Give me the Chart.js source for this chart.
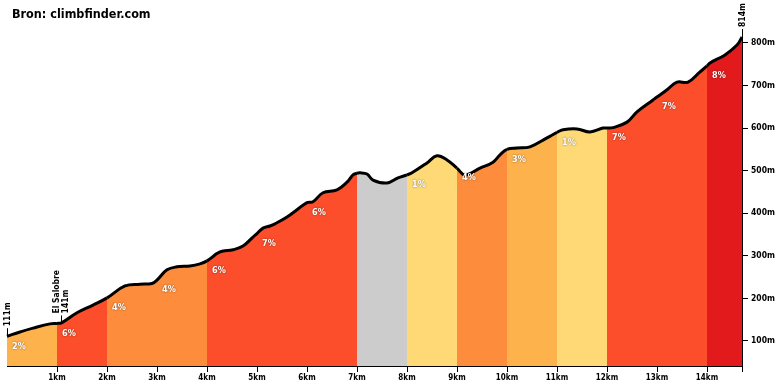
<!DOCTYPE html>
<html>
<head>
<meta charset="utf-8">
<script src="https://cdn.jsdelivr.net/npm/chart.js@4/dist/chart.umd.min.js"></script>
<style>
    body { margin: 0; background: #fff; }
    #wrap { width: 780px; height: 390px; }
</style>
</head>
<body>
<div id="wrap"><canvas id="profile" width="780" height="390"></canvas></div>
<script>
// profile: distance (km) and altitude (m)
const distKm = [0, 0.26, 0.52, 0.86, 1.0, 1.1, 1.4, 1.72, 2.0, 2.36, 2.66, 2.9, 3.0, 3.2, 3.4, 3.66, 3.86,
    4.0, 4.26, 4.52, 4.72, 4.92, 5.0, 5.12, 5.26, 5.36, 5.6, 5.8, 6.0, 6.12, 6.32, 6.6, 6.8, 6.92,
    7.0, 7.06, 7.2, 7.32, 7.6, 7.82, 8.0, 8.1, 8.4, 8.6, 8.8, 9.0, 9.16, 9.46, 9.72, 9.86,
    10.0, 10.2, 10.46, 10.8, 11.0, 11.12, 11.4, 11.66, 11.92, 12.0, 12.12, 12.4, 12.6, 12.92,
    13.0, 13.2, 13.4, 13.62, 13.86, 14.0, 14.06, 14.36, 14.6, 14.7];
const elevM = [111, 121, 130, 140, 141, 143, 166, 184, 201, 229, 233, 235, 243, 267, 274, 276, 281,
    288, 309, 314, 323, 344, 352, 365, 370, 375, 391, 408, 425, 427, 448, 455, 473, 490,
    494, 495, 492, 478, 471, 483, 490, 495, 518, 535, 525, 506, 490, 506, 520, 537,
    550, 553, 556, 577, 590, 596, 598, 591, 600, 600, 601, 614, 638, 666,
    673, 690, 708, 708, 732, 746, 753, 772, 795, 814];

// one entry per kilometre
const gradeText = ["2%", "6%", "4%", "4%", "6%", "7%", "6%", "", "1%", "4%", "3%", "1%", "7%", "7%", "8%"];
const gradeColor = ["#FEB24C", "#FC4E2A", "#FD8D3C", "#FD8D3C", "#FC4E2A", "#FC4E2A", "#FC4E2A", "#CCCCCC",
    "#FED976", "#FD8D3C", "#FEB24C", "#FED976", "#FC4E2A", "#FC4E2A", "#E31A1C"];

const kmTicks = [1, 2, 3, 4, 5, 6, 7, 8, 9, 10, 11, 12, 13, 14, 14.7];
const elevTicks = [100, 200, 300, 400, 500, 600, 700, 800];

const markerKm = [0, 1.08, 14.7];
const markerElev = [111, 141, 814];
const markerText = [["111m"], ["El Salobre", "141m"], ["814m"]];

const FONT = "'DejaVu Sans Condensed', 'DejaVu Sans', sans-serif";

const profilePlugin = {
    id: "profileLabels",
    afterDatasetsDraw(chart) {
        const ctx = chart.ctx;
        const xs = chart.scales.x, ys = chart.scales.y;

        // gradient labels per km
        ctx.save();
        ctx.font = "bold 9px " + FONT;
        ctx.fillStyle = "#fff";
        ctx.textAlign = "left";
        ctx.textBaseline = "middle";
        ctx.shadowColor = "rgba(0,0,0,0.55)";
        ctx.shadowBlur = 2;
        gradeText.forEach((t, i) => {
            if (!t) return;
            const idx = distKm.indexOf(i);
            const x = xs.getPixelForValue(i) + 5;
            const y = ys.getPixelForValue(elevM[idx]) + 10;
            ctx.fillText(t, x, y);
        });
        ctx.restore();

        // markers with rotated text
        ctx.save();
        ctx.strokeStyle = "#000";
        ctx.fillStyle = "#000";
        ctx.lineWidth = 1;
        ctx.font = "bold 8.5px " + FONT;
        markerKm.forEach((km, i) => {
            const x = Math.round(xs.getPixelForValue(km)) + 0.5;
            const y = ys.getPixelForValue(markerElev[i]);
            ctx.beginPath();
            ctx.moveTo(x, y);
            ctx.lineTo(x, y - 8);
            ctx.stroke();
            const lines = markerText[i];
            ctx.save();
            ctx.translate(x, y - 10);
            ctx.rotate(-Math.PI / 2);
            ctx.textAlign = "left";
            ctx.textBaseline = "middle";
            lines.forEach((l, j) => {
                ctx.fillText(l, 0, (j - (lines.length - 1) / 2) * 9);
            });
            ctx.restore();
        });
        ctx.restore();

        // title
        ctx.save();
        ctx.font = "bold 12.5px " + FONT;
        ctx.fillStyle = "#000";
        ctx.textAlign = "left";
        ctx.textBaseline = "alphabetic";
        ctx.fillText("Bron: climbfinder.com", 12, 18);
        ctx.restore();
    }
};

const points = distKm.map((d, i) => ({ x: d, y: elevM[i] }));

new Chart(document.getElementById("profile").getContext("2d"), {
    type: "line",
    data: {
        datasets: [{
            data: points,
            borderColor: "#000",
            borderWidth: 3,
            backgroundColor: gradeColor[0],
            fill: "start",
            pointRadius: 0,
            tension: 0.4,
            clip: false,
            segment: {
                backgroundColor: c => gradeColor[Math.min(gradeColor.length - 1, Math.floor(c.p0.parsed.x + 1e-6))]
            }
        }]
    },
    options: {
        responsive: false,
        animation: false,
        layout: { padding: { left: 7, top: 37, right: 0, bottom: 0 } },
        plugins: {
            legend: { display: false },
            tooltip: { enabled: false },
            title: { display: false }
        },
        scales: {
            x: {
                type: "linear",
                min: 0,
                max: 14.7,
                afterBuildTicks: s => { s.ticks = kmTicks.map(v => ({ value: v })); },
                afterFit: s => { s.height = 24; },
                ticks: {
                    autoSkip: false,
                    maxRotation: 0,
                    padding: 1,
                    color: "#000",
                    font: { family: FONT, size: 8, weight: "bold" },
                    callback: v => Number.isInteger(v) ? v + "km" : ""
                },
                grid: { drawOnChartArea: false, tickLength: 6, color: "#000" },
                border: { color: "#000", width: 1 }
            },
            y: {
                position: "right",
                min: 41,
                max: 814,
                afterBuildTicks: s => { s.ticks = elevTicks.map(v => ({ value: v })); },
                afterFit: s => { s.width = 38; },
                ticks: {
                    padding: 3,
                    color: "#000",
                    font: { family: FONT, size: 8.5, weight: "bold" },
                    callback: v => v + "m"
                },
                grid: { drawOnChartArea: false, tickLength: 6, color: "#000" },
                border: { color: "#000", width: 1 }
            }
        }
    },
    plugins: [profilePlugin]
});
</script>
</body>
</html>
